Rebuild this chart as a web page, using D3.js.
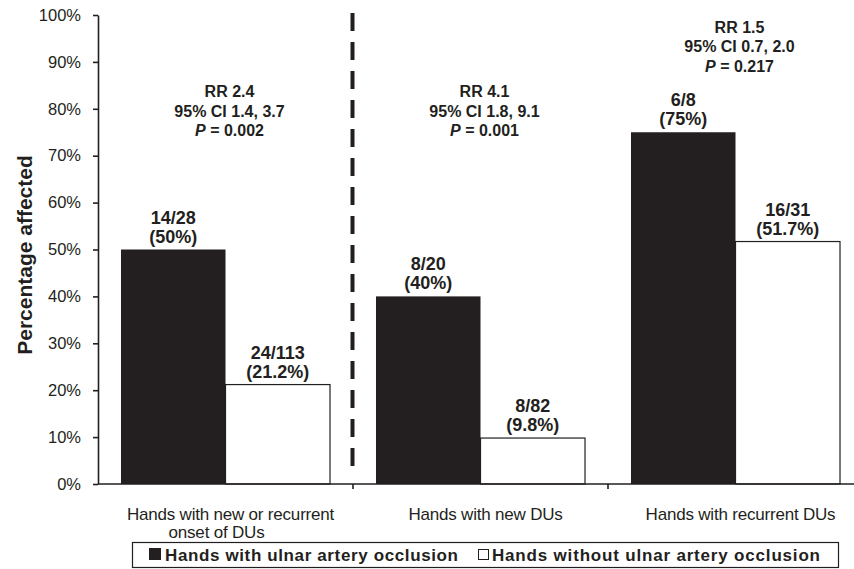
<!DOCTYPE html>
<html>
<head>
<meta charset="utf-8">
<script src="https://cdn.jsdelivr.net/npm/d3@7/dist/d3.min.js"></script>
<style>
  html, body { margin: 0; padding: 0; background: #fff; }
  svg { display: block; font-family: "Liberation Sans", Arial, Helvetica, sans-serif; }
</style>
</head>
<body>
<svg id="chart" width="854" height="569"></svg>
<script>
// Hand groups shown on the x axis (each entry is a list of label lines)
const categories = [
  ["Hands with new or recurrent", "onset of DUs"],
  ["Hands with new DUs"],
  ["Hands with recurrent DUs"]
];
const seriesNames = ["Hands with ulnar artery occlusion", "Hands without ulnar artery occlusion"];

// Percentage affected per group
const withOcclusion = [50, 40, 75];
const withoutOcclusion = [21.2, 9.8, 51.7];

// Counts shown above the bars
const withCounts = ["14/28", "8/20", "6/8"];
const withoutCounts = ["24/113", "8/82", "16/31"];

// Statistics per group
const riskRatios = ["RR 2.4", "RR 4.1", "RR 1.5"];
const confIntervals = ["95% CI 1.4, 3.7", "95% CI 1.8, 9.1", "95% CI 0.7, 2.0"];
const pValues = ["0.002", "0.001", "0.217"];

const yTicks = [0, 10, 20, 30, 40, 50, 60, 70, 80, 90, 100];

const ink = "#231f20";
const svg = d3.select("#chart");

const x0 = 98, yBase = 484, yTop = 15;
const step = 255;
const keys = categories.map((c, i) => "g" + i);

const x = d3.scaleBand().domain(keys).range([x0, x0 + step * keys.length]).padding(0);
const xs = d3.scaleBand().domain(["with", "without"]).range([0, x.bandwidth()])
  .paddingInner(0).paddingOuter(0.22);
const y = d3.scaleLinear().domain([0, 100]).range([yBase, yTop]);

const fmtPct = d => d + "%";

// Y axis
const yAxis = svg.append("g")
  .attr("transform", `translate(${x0},0)`)
  .call(d3.axisLeft(y).tickValues(yTicks).tickFormat(fmtPct).tickSize(5).tickSizeOuter(0).tickPadding(12));
yAxis.select(".domain").attr("stroke", ink).attr("stroke-width", 1.6);
yAxis.selectAll(".tick line").attr("stroke", ink).attr("stroke-width", 1.6);
yAxis.selectAll(".tick text").attr("fill", ink).style("font-size", "16.5px")
  .style("font-family", "'Liberation Sans', Arial, sans-serif");

// Y axis title
svg.append("text")
  .attr("transform", `translate(25,255) rotate(-90)`)
  .attr("text-anchor", "middle")
  .attr("dy", "0.35em")
  .attr("fill", ink)
  .style("font-size", "21px").style("font-weight", "bold")
  .text("Percentage affected");

// Bars
const rows = categories.map((c, i) => ({
  key: keys[i],
  bars: [
    { s: "with", v: withOcclusion[i], count: withCounts[i] },
    { s: "without", v: withoutOcclusion[i], count: withoutCounts[i] }
  ]
}));

const groups = svg.append("g").selectAll("g").data(rows).join("g")
  .attr("transform", d => `translate(${x(d.key)},0)`);

groups.selectAll("rect").data(d => d.bars).join("rect")
  .attr("x", d => xs(d.s))
  .attr("y", d => y(d.v))
  .attr("width", xs.bandwidth())
  .attr("height", d => y(0) - y(d.v))
  .attr("fill", d => d.s === "with" ? ink : "#fff")
  .attr("stroke", d => d.s === "with" ? "none" : ink)
  .attr("stroke-width", 1.2);

// Value labels: count on one line, percentage below
const valueLabels = groups.selectAll("text.val").data(d => d.bars).join("text")
  .attr("class", "val")
  .attr("text-anchor", "middle")
  .attr("fill", ink)
  .style("font-size", "18px").style("font-weight", "bold");
valueLabels.append("tspan")
  .attr("x", d => xs(d.s) + xs.bandwidth() / 2)
  .attr("y", d => y(d.v) - 26)
  .text(d => d.count);
valueLabels.append("tspan")
  .attr("x", d => xs(d.s) + xs.bandwidth() / 2)
  .attr("y", d => y(d.v) - 7)
  .text(d => "(" + d.v + "%)");

// X axis
const xAxisG = svg.append("g").attr("transform", `translate(0,${yBase})`);
xAxisG.append("line")
  .attr("x1", x0).attr("x2", x0 + step * keys.length)
  .attr("stroke", ink).attr("stroke-width", 1.6);
xAxisG.selectAll("line.tick").data(keys.slice(1)).join("line")
  .attr("class", "tick")
  .attr("x1", d => x(d)).attr("x2", d => x(d))
  .attr("y1", 0).attr("y2", 5)
  .attr("stroke", ink).attr("stroke-width", 1.6);

// Category labels
const catLabels = svg.append("g").selectAll("text").data(categories).join("text")
  .attr("text-anchor", "middle")
  .attr("fill", ink)
  .style("font-size", "17px")
  .style("letter-spacing", "-0.2px");
catLabels.selectAll("tspan").data((d, i) => d.map((line, j) => ({ line, i, j }))).join("tspan")
  .attr("x", d => x(keys[d.i]) + x.bandwidth() / 2 + (d.j === 0 ? 5 : -9))
  .attr("y", d => 520 + d.j * 18)
  .text(d => d.line);

// Dashed separator between the overall group and the subgroups
svg.append("line")
  .attr("x1", x(keys[1]) - 0.5).attr("x2", x(keys[1]) - 0.5)
  .attr("y1", 13).attr("y2", 468)
  .attr("stroke", ink).attr("stroke-width", 4)
  .attr("stroke-dasharray", "18 11");

// Statistics text above each group (first-line level expressed in axis units)
const statsLevel = [82.5, 82.5, 96.2];
const stats = svg.append("g").selectAll("text").data(keys).join("text")
  .attr("text-anchor", "middle")
  .attr("fill", ink)
  .style("font-size", "16px").style("font-weight", "bold");
stats.each(function (k, i) {
  const t = d3.select(this);
  const cx = x(k) + x.bandwidth() / 2 + 4;
  const by = y(statsLevel[i]);
  t.append("tspan").attr("x", cx).attr("y", by).text(riskRatios[i]);
  t.append("tspan").attr("x", cx).attr("y", by + 19.5).text(confIntervals[i]);
  const p = t.append("tspan").attr("x", cx).attr("y", by + 39);
  p.append("tspan").style("font-style", "italic").text("P");
  p.append("tspan").text(" = " + pValues[i]);
});

// Legend
const legend = svg.append("g");
legend.append("rect")
  .attr("x", 132.5).attr("y", 542.5).attr("width", 706).attr("height", 25)
  .attr("fill", "#fff").attr("stroke", ink).attr("stroke-width", 1.2);
legend.append("rect")
  .attr("x", 149).attr("y", 548).attr("width", 12).attr("height", 12)
  .attr("fill", ink);
legend.append("text")
  .attr("x", 165).attr("y", 561)
  .attr("fill", ink)
  .attr("textLength", 293).attr("lengthAdjust", "spacing")
  .style("font-size", "17px").style("font-weight", "bold")
  .text(seriesNames[0]);
legend.append("rect")
  .attr("x", 478.5).attr("y", 549.5).attr("width", 10).attr("height", 10)
  .attr("fill", "#fff").attr("stroke", ink).attr("stroke-width", 1);
legend.append("text")
  .attr("x", 492).attr("y", 561)
  .attr("fill", ink)
  .attr("textLength", 328).attr("lengthAdjust", "spacing")
  .style("font-size", "17px").style("font-weight", "bold")
  .text(seriesNames[1]);
</script>
</body>
</html>
